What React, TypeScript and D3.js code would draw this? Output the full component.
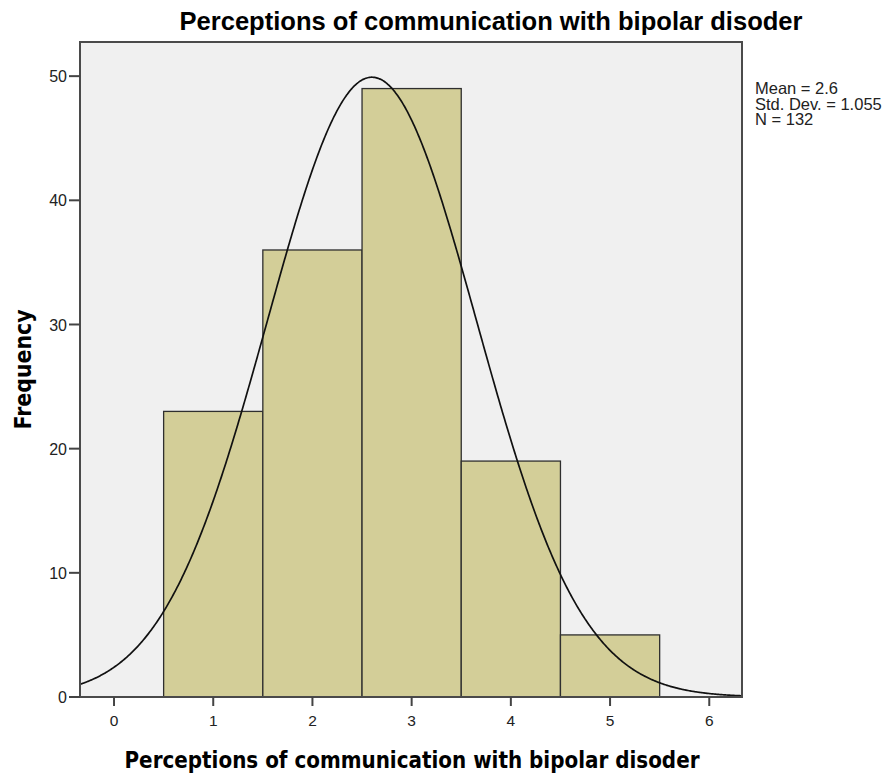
import React from "react";
import * as d3 from "d3";

const binStarts = [0.5, 1.5, 2.5, 3.5, 4.5];
const binWidth = 1;
const frequencies = [23, 36, 49, 19, 5];
const xTicks = [0, 1, 2, 3, 4, 5, 6];
const yTicks = [0, 10, 20, 30, 40, 50];
const mean = 2.6;
const stdDev = 1.055;
const n = 132;
const statsLines = ["Mean = 2.6", "Std. Dev. = 1.055", "N = 132"];
const title = "Perceptions of communication with bipolar disoder";
const xLabel = "Perceptions of communication with bipolar disoder";
const yLabel = "Frequency";

const W = 891;
const H = 773;
const plot = { left: 80, right: 742, top: 42, bottom: 697 };

export default function App() {
  const x = d3.scaleLinear().domain([-0.343, 6.33]).range([plot.left, plot.right]);
  const y = d3.scaleLinear().domain([0, 52.75]).range([plot.bottom, plot.top]);

  const pdf = (v: number) =>
    (n * binWidth) / (stdDev * Math.sqrt(2 * Math.PI)) * Math.exp(-0.5 * ((v - mean) / stdDev) ** 2);
  const xs = d3.range(-0.343, 6.331, 0.01);
  const line = d3
    .line<number>()
    .x((d) => x(d))
    .y((d) => y(pdf(d)))
    .curve(d3.curveBasis);

  const font = "'Liberation Sans', Arial, sans-serif";
  const boldFont = "'DejaVu Sans', Verdana, sans-serif";

  return (
    <svg width={W} height={H} style={{ position: "absolute", left: 0, top: 0 }}>
      <rect x={0} y={0} width={W} height={H} fill="#ffffff" />
      <text
        x={491}
        y={30}
        textAnchor="middle"
        fontFamily={font}
        fontWeight="bold"
        fontSize={25.5}
        textLength={623}
        lengthAdjust="spacingAndGlyphs"
        fill="#000"
      >
        {title}
      </text>
      <defs>
        <clipPath id="plotclip">
          <rect x={plot.left} y={plot.top} width={plot.right - plot.left} height={plot.bottom - plot.top} />
        </clipPath>
      </defs>
      <rect
        x={plot.left}
        y={plot.top}
        width={plot.right - plot.left}
        height={plot.bottom - plot.top}
        fill="#f0f0f0"
      />
      {frequencies.map((f, i) => (
        <rect
          key={i}
          x={x(binStarts[i])}
          y={y(f)}
          width={x(binStarts[i] + binWidth) - x(binStarts[i])}
          height={y(0) - y(f)}
          fill="#d3ce98"
          stroke="#2f2f2f"
          strokeWidth={1.3}
        />
      ))}
      <path d={line(xs) ?? ""} fill="none" stroke="#111" strokeWidth={1.7} clipPath="url(#plotclip)" />
      <rect
        x={plot.left}
        y={plot.top}
        width={plot.right - plot.left}
        height={plot.bottom - plot.top}
        fill="none"
        stroke="#4a4a4a"
        strokeWidth={2}
      />
      {yTicks.map((t) => (
        <g key={t}>
          <line x1={plot.left - 11} x2={plot.left} y1={y(t)} y2={y(t)} stroke="#444" strokeWidth={2} />
          <text x={67} y={y(t)} dy="0.38em" textAnchor="end" fontFamily={font} fontSize={16} fill="#222">
            {t}
          </text>
        </g>
      ))}
      {xTicks.map((t) => (
        <g key={t}>
          <line x1={x(t)} x2={x(t)} y1={plot.bottom} y2={plot.bottom + 9} stroke="#444" strokeWidth={2} />
          <text x={x(t)} y={726} textAnchor="middle" fontFamily={font} fontSize={15.5} fill="#222">
            {t}
          </text>
        </g>
      ))}
      <text
        x={(plot.left + plot.right) / 2 + 1}
        y={768}
        textAnchor="middle"
        fontFamily={boldFont}
        fontWeight="bold"
        fontSize={23}
        textLength={575}
        lengthAdjust="spacingAndGlyphs"
        fill="#000"
      >
        {xLabel}
      </text>
      <text
        transform={`translate(31, ${(plot.top + plot.bottom) / 2}) rotate(-90)`}
        textAnchor="middle"
        fontFamily={boldFont}
        fontWeight="bold"
        fontSize={23}
        textLength={120}
        lengthAdjust="spacingAndGlyphs"
        fill="#000"
      >
        {yLabel}
      </text>
      {statsLines.map((s, i) => (
        <text key={s} x={755} y={94 + i * 15.5} fontFamily={font} fontSize={16.5} fill="#222">
          {s}
        </text>
      ))}
    </svg>
  );
}
